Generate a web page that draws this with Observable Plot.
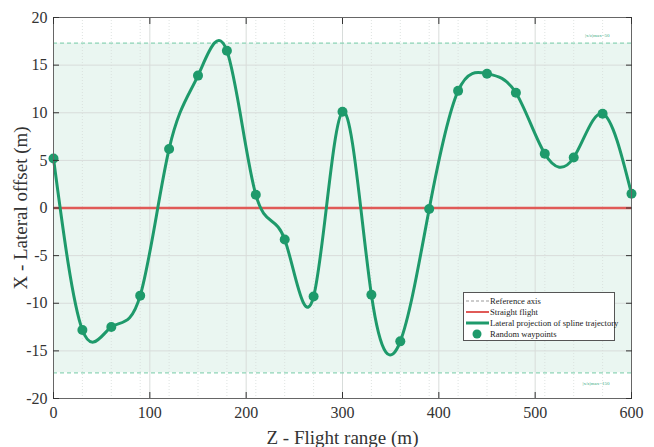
<!DOCTYPE html>
<html><head><meta charset="utf-8">
<script src="https://cdn.jsdelivr.net/npm/d3@7"></script>
<script src="https://cdn.jsdelivr.net/npm/@observablehq/plot@0.6"></script>
<style>
body{margin:0;background:#fff;}
#wrap{position:relative;width:654px;height:447px;}
#chart svg, #chart svg text{font-family:"Liberation Serif","Times New Roman",serif !important;}
#legend{position:absolute;left:463px;top:292px;width:152px;height:49px;border:1px solid #555;background:#fff;font-family:"Liberation Serif",serif;font-size:8.6px;color:#222;box-sizing:border-box;padding:2px 2px;}
#legend div{display:flex;align-items:center;height:11px;white-space:nowrap;}
#legend svg{width:23px;height:10px;margin-right:1px;flex:none;}
</style>
</head><body>
<div id="wrap"><div id="chart"></div>
<div id="legend">
<div><svg><line x1="0" x2="23" y1="5" y2="5" stroke="#999" stroke-width="1" stroke-dasharray="3,2"/></svg>Reference axis</div>
<div><svg><line x1="0" x2="23" y1="5" y2="5" stroke="#e05a57" stroke-width="2"/></svg>Straight flight</div>
<div><svg><line x1="0" x2="23" y1="5" y2="5" stroke="#1e9a6b" stroke-width="3"/></svg>Lateral projection of spline trajectory</div>
<div><svg><circle cx="11" cy="5" r="4.5" fill="#1e9a6b"/></svg>Random waypoints</div>
</div></div>
<script>
const waypointX = [0,30,60,90,120,150,180,210,240,270,300,330,360,390,420,450,480,510,540,570,600];
const waypointY = [5.2,-12.8,-12.5,-9.2,6.2,13.9,16.5,1.4,-3.3,-9.3,10.1,-9.1,-14.0,-0.1,12.3,14.1,12.1,5.7,5.3,9.9,1.5];
const xTicks = [0,100,200,300,400,500,600];
const yTicks = [-20,-15,-10,-5,0,5,10,15,20];
const limit = 17.3;
const limitLabels = ["|x/z|max=50", "|x/z|max=150"];

const pts = waypointX.map((x,i)=>({x, y: waypointY[i]}));
const green = "#1e9a6b";
const ff = "Liberation Serif";
const blank = () => "";

const chart = Plot.plot({
  width: 654, height: 447,
  marginLeft: 53, marginRight: 23, marginTop: 17, marginBottom: 49,
  style: {fontFamily: ff, fontSize: "16px", color: "#333", background: "#fff"},
  x: {domain: [0, 600]},
  y: {domain: [-20, 20]},
  marks: [
    Plot.rect([{}], {x1: 0, x2: 600, y1: -limit, y2: limit, fill: "#eaf6f1"}),
    Plot.ruleY(yTicks, {stroke: "#d8dcda", strokeWidth: 1}),
    Plot.ruleX(xTicks, {stroke: "#d8dcda", strokeWidth: 1}),
    Plot.ruleX(waypointX, {stroke: "#d6dcd9", strokeWidth: 0.8, strokeDasharray: "1,2"}),
    Plot.ruleY([limit, -limit], {stroke: "#8dd3b6", strokeWidth: 1.2, strokeDasharray: "4,3"}),
    Plot.ruleY([0], {stroke: "#e05a57", strokeWidth: 2.5}),
    Plot.line(pts, {x: "x", y: "y", curve: "natural", stroke: green, strokeWidth: 3}),
    Plot.dot(pts, {x: "x", y: "y", r: 5, fill: green}),
    Plot.text([limitLabels[0]], {x: 600, y: limit, text: d => d, dy: -8, dx: -22, fontSize: 5, fill: "#3aaa80", textAnchor: "end", fontFamily: ff}),
    Plot.text([limitLabels[1]], {x: 600, y: -limit, text: d => d, dy: 11, dx: -22, fontSize: 5, fill: "#3aaa80", textAnchor: "end", fontFamily: ff}),
    Plot.frame({stroke: "#666", strokeWidth: 1}),
    Plot.axisX({ticks: xTicks, tickSize: -6, tickPadding: 14, tickFormat: d => String(d), label: null, fontSize: 16, fontFamily: ff}),
    Plot.axisX({anchor: "top", ticks: xTicks, tickSize: -6, tickFormat: blank, label: null}),
    Plot.axisY({ticks: yTicks, tickSize: -6, tickPadding: 12, tickFormat: d => String(d), label: null, fontSize: 16, fontFamily: ff}),
    Plot.axisY({anchor: "right", ticks: yTicks, tickSize: -6, tickFormat: blank, label: null}),
    Plot.axisX({ticks: [], label: "Z - Flight range (m)", labelAnchor: "center", labelArrow: false, labelOffset: 45, fontSize: 19, fontFamily: ff}),
    Plot.axisY({ticks: [], label: "X - Lateral offset (m)", labelAnchor: "center", labelArrow: false, labelOffset: 40, fontSize: 19, fontFamily: ff})
  ]
});
document.getElementById("chart").appendChild(chart);
</script>
</body></html>
